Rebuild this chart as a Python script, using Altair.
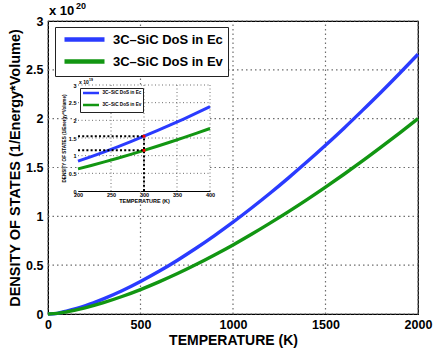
import altair as alt
import pandas as pd

# ---- main plot data (x 1e20 states) ----
temps = [0, 50, 100, 200, 300, 400, 500, 600, 700, 800, 900, 1000, 1100, 1200,
         1300, 1400, 1500, 1600, 1700, 1800, 1900, 2000]
dos_ec = [0, 0.007, 0.030, 0.084, 0.155, 0.238, 0.333, 0.437, 0.551, 0.673, 0.803,
          0.940, 1.085, 1.236, 1.394, 1.558, 1.728, 1.903, 2.085, 2.271, 2.463, 2.66]
dos_ev = [0, 0.006, 0.022, 0.063, 0.116, 0.179, 0.250, 0.329, 0.414, 0.506, 0.604,
          0.707, 0.816, 0.930, 1.048, 1.171, 1.299, 1.431, 1.567, 1.708, 1.852, 2.00]

# ---- inset data (x 1e19 states) ----
inset_temps = [200, 220, 240, 260, 280, 300, 320, 340, 360, 380, 400]
inset_ec = [0.844, 0.973, 1.109, 1.251, 1.398, 1.55, 1.708, 1.870, 2.037, 2.210, 2.386]
inset_ev = [0.626, 0.722, 0.823, 0.928, 1.037, 1.15, 1.267, 1.387, 1.512, 1.639, 1.770]

series_names = ["3C\u2013SiC DoS in Ec", "3C\u2013SiC DoS in Ev"]
series_colors = ["#2a3bff", "#129612"]

x_ticks = [0, 500, 1000, 1500, 2000]
y_ticks = [0, 0.5, 1, 1.5, 2, 2.5, 3]
x_range = [0, 2000]
y_range = [0, 3]
inset_x_ticks = [200, 250, 300, 350, 400]
inset_y_ticks = [0, 0.5, 1, 1.5, 2, 2.5, 3]
inset_grid_x = [250, 300, 350, 400]
inset_grid_y = [0.5, 1, 1.5, 2, 2.5, 3]
inset_x_range = [200, 400]
inset_y_range = [0, 3]

# markers at 300 K
mark_T = [300, 300]
mark_val = [1.55, 1.15]

FONT = "Liberation Sans"
GRID = "#6e6e6e"
DASH = [1.5, 3]

main_df = pd.DataFrame({
    "T": temps * 2,
    "D": dos_ec + dos_ev,
    "s": [series_names[0]] * len(temps) + [series_names[1]] * len(temps),
})
inset_df = pd.DataFrame({
    "T": inset_temps * 2,
    "D": inset_ec + inset_ev,
    "s": [series_names[0]] * len(inset_temps) + [series_names[1]] * len(inset_temps),
})

# ---------------- main layer ----------------
mx = alt.Scale(domain=x_range, nice=False)
my = alt.Scale(domain=y_range, nice=False)

mgx = pd.DataFrame({"v": x_ticks, "lo": [y_range[0]] * len(x_ticks), "hi": [y_range[1]] * len(x_ticks)})
mgy = pd.DataFrame({"v": y_ticks, "lo": [x_range[0]] * len(y_ticks), "hi": [x_range[1]] * len(y_ticks)})
main_gx = alt.Chart(mgx).mark_rule(color=GRID, strokeDash=DASH, strokeWidth=1.2, opacity=1).encode(
    x=alt.X("v:Q", scale=mx, axis=alt.Axis(
        values=x_ticks, title="TEMPERATURE (K)", grid=False, ticks=False,
        labelFontSize=12.5, titleFontSize=14, titlePadding=3, labelPadding=4,
        format="d", labelFlush=False)),
    y=alt.Y("lo:Q", scale=my, axis=alt.Axis(
        values=y_ticks, title="DENSITY OF STATES (1/Energy*Volume)", grid=False,
        ticks=False, labelFontSize=12.5, titleFontSize=14.5, titlePadding=3,
        labelPadding=5, format="~g", labelFlush=False)),
    y2="hi:Q")
main_gy = alt.Chart(mgy).mark_rule(color=GRID, strokeDash=DASH, strokeWidth=1.2, opacity=1).encode(
    y=alt.Y("v:Q", scale=my), x=alt.X("lo:Q", scale=mx), x2="hi:Q")

main_lines = alt.Chart(main_df).mark_line(strokeWidth=3.4, interpolate="monotone").encode(
    x=alt.X("T:Q", scale=mx),
    y=alt.Y("D:Q", scale=my),
    color=alt.Color("s:N", scale=alt.Scale(domain=series_names, range=series_colors),
                    legend=alt.Legend(
                        orient="none", legendX=7, legendY=6, title=None,
                        symbolType="M-4,0L4,0", symbolStrokeWidth=4.5, symbolSize=100,
                        labelFontSize=13, labelFont=FONT, labelFontWeight="bold",
                        labelColor="black",
                        strokeColor="#222222", fillColor="white", padding=5,
                        rowPadding=3, symbolOffset=17, labelOffset=21)),
)

exp_df = pd.DataFrame({"x": [x_range[0]], "y": [y_range[1]]})
main_exp = alt.Chart(exp_df).mark_text(
    text="x 10", align="left", baseline="bottom", dx=1, dy=-3,
    fontSize=13, font=FONT, fontWeight="bold").encode(
    x=alt.X("x:Q", scale=mx), y=alt.Y("y:Q", scale=my))
main_exp2 = alt.Chart(exp_df).mark_text(
    text="20", align="left", baseline="bottom", dx=28, dy=-10,
    fontSize=9, font=FONT, fontWeight="bold").encode(
    x=alt.X("x:Q", scale=mx), y=alt.Y("y:Q", scale=my))

main_layer = alt.layer(main_gx, main_gy, main_lines, main_exp, main_exp2)

# ---------------- inset layer ----------------
ix = alt.Scale(domain=inset_x_range, range=[30, 162], nice=False)
iy = alt.Scale(domain=inset_y_range, range=[170, 64], nice=False)

bg_df = pd.DataFrame({"x": [inset_x_range[0]], "x2": [inset_x_range[1]],
                      "y": [inset_y_range[0]], "y2": [inset_y_range[1]]})
inset_bg = alt.Chart(bg_df).mark_rect(fill="white").encode(
    x=alt.X("x:Q", scale=ix, axis=alt.Axis(
        values=inset_x_ticks, orient="bottom", offset=-123, title="TEMPERATURE (K)",
        grid=False, ticks=False, labelFontSize=5.5, titleFontSize=5.5,
        labelPadding=1.5, titlePadding=0, labelFlush=False, domainColor="black")),
    x2="x2:Q",
    y=alt.Y("y:Q", scale=iy, axis=alt.Axis(
        values=inset_y_ticks, orient="left", offset=-30,
        title="DENSITY OF STATES (1/Energy*Volume)", grid=False, ticks=False,
        labelFontSize=5.5, titleFontSize=4.6, labelPadding=2, titlePadding=2,
        format="~g", labelFlush=False, domainColor="black")),
    y2="y2:Q",
)

gx_df = pd.DataFrame({"v": inset_grid_x, "lo": [inset_y_range[0]] * len(inset_grid_x),
                      "hi": [inset_y_range[1]] * len(inset_grid_x)})
gy_df = pd.DataFrame({"v": inset_grid_y, "lo": [inset_x_range[0]] * len(inset_grid_y),
                      "hi": [inset_x_range[1]] * len(inset_grid_y)})
inset_gx = alt.Chart(gx_df).mark_rule(color=GRID, strokeDash=[1, 2.5], strokeWidth=1, opacity=1).encode(
    x=alt.X("v:Q", scale=ix), y=alt.Y("lo:Q", scale=iy), y2="hi:Q")
inset_gy = alt.Chart(gy_df).mark_rule(color=GRID, strokeDash=[1, 2.5], strokeWidth=1, opacity=1).encode(
    y=alt.Y("v:Q", scale=iy), x=alt.X("lo:Q", scale=ix), x2="hi:Q")

inset_lines = alt.Chart(inset_df).mark_line(strokeWidth=3).encode(
    x=alt.X("T:Q", scale=ix),
    y=alt.Y("D:Q", scale=iy),
    color=alt.Color("s:N", scale=alt.Scale(domain=series_names, range=series_colors),
                    legend=alt.Legend(
                        orient="none", legendX=32, legendY=67, title=None,
                        symbolType="M-4,0L4,0", symbolStrokeWidth=2.5, symbolSize=16,
                        labelFontSize=4.6, labelFont=FONT, labelFontWeight="bold",
                        labelColor="black",
                        strokeColor="#222222", fillColor="white", padding=1.5,
                        rowPadding=1, symbolOffset=6, labelOffset=8)),
)

mk_df = pd.DataFrame({"T": mark_T, "D": mark_val,
                      "x0": [inset_x_range[0]] * 2, "y0": [inset_y_range[0]] * 2})
h_dash = alt.Chart(mk_df).mark_rule(color="black", strokeDash=[2, 2.2], strokeWidth=2).encode(
    x=alt.X("x0:Q", scale=ix), x2="T:Q", y=alt.Y("D:Q", scale=iy))
v_dash = alt.Chart(mk_df.iloc[[0]]).mark_rule(color="black", strokeDash=[2, 2.2], strokeWidth=2).encode(
    x=alt.X("T:Q", scale=ix), y=alt.Y("y0:Q", scale=iy), y2="D:Q")
red_pts = alt.Chart(mk_df).mark_point(shape="square", filled=True, color="red", size=8, opacity=1).encode(
    x=alt.X("T:Q", scale=ix), y=alt.Y("D:Q", scale=iy))

iexp_df = pd.DataFrame({"x": [inset_x_range[0]], "y": [inset_y_range[1]]})
inset_exp = alt.Chart(iexp_df).mark_text(
    text="x 10", align="left", baseline="bottom", dx=1, dy=0,
    fontSize=5, font=FONT, fontWeight="bold").encode(
    x=alt.X("x:Q", scale=ix), y=alt.Y("y:Q", scale=iy))
inset_exp2 = alt.Chart(iexp_df).mark_text(
    text="19", align="left", baseline="bottom", dx=11, dy=-3,
    fontSize=3.5, font=FONT, fontWeight="bold").encode(
    x=alt.X("x:Q", scale=ix), y=alt.Y("y:Q", scale=iy))

inset_layer = alt.layer(inset_bg, inset_gx, inset_gy, inset_lines, h_dash, v_dash,
                        red_pts, inset_exp, inset_exp2)

chart = alt.layer(main_layer, inset_layer).resolve_scale(
    x="independent", y="independent", color="independent"
).properties(
    width=370, height=293,
    autosize=alt.AutoSizeParams(type="none"),
    padding={"left": 48, "top": 21, "right": 15, "bottom": 42},
    background="white",
).configure_view(stroke="black", strokeWidth=1.2).configure_axis(
    labelFont=FONT, titleFont=FONT, labelFontWeight="bold", titleFontWeight="bold",
    labelColor="black", titleColor="black", domainColor="black",
).configure_legend(strokeColor="#222222", fillColor="white")

chart.save("out.html", embed_options={"renderer": "svg", "actions": False})
